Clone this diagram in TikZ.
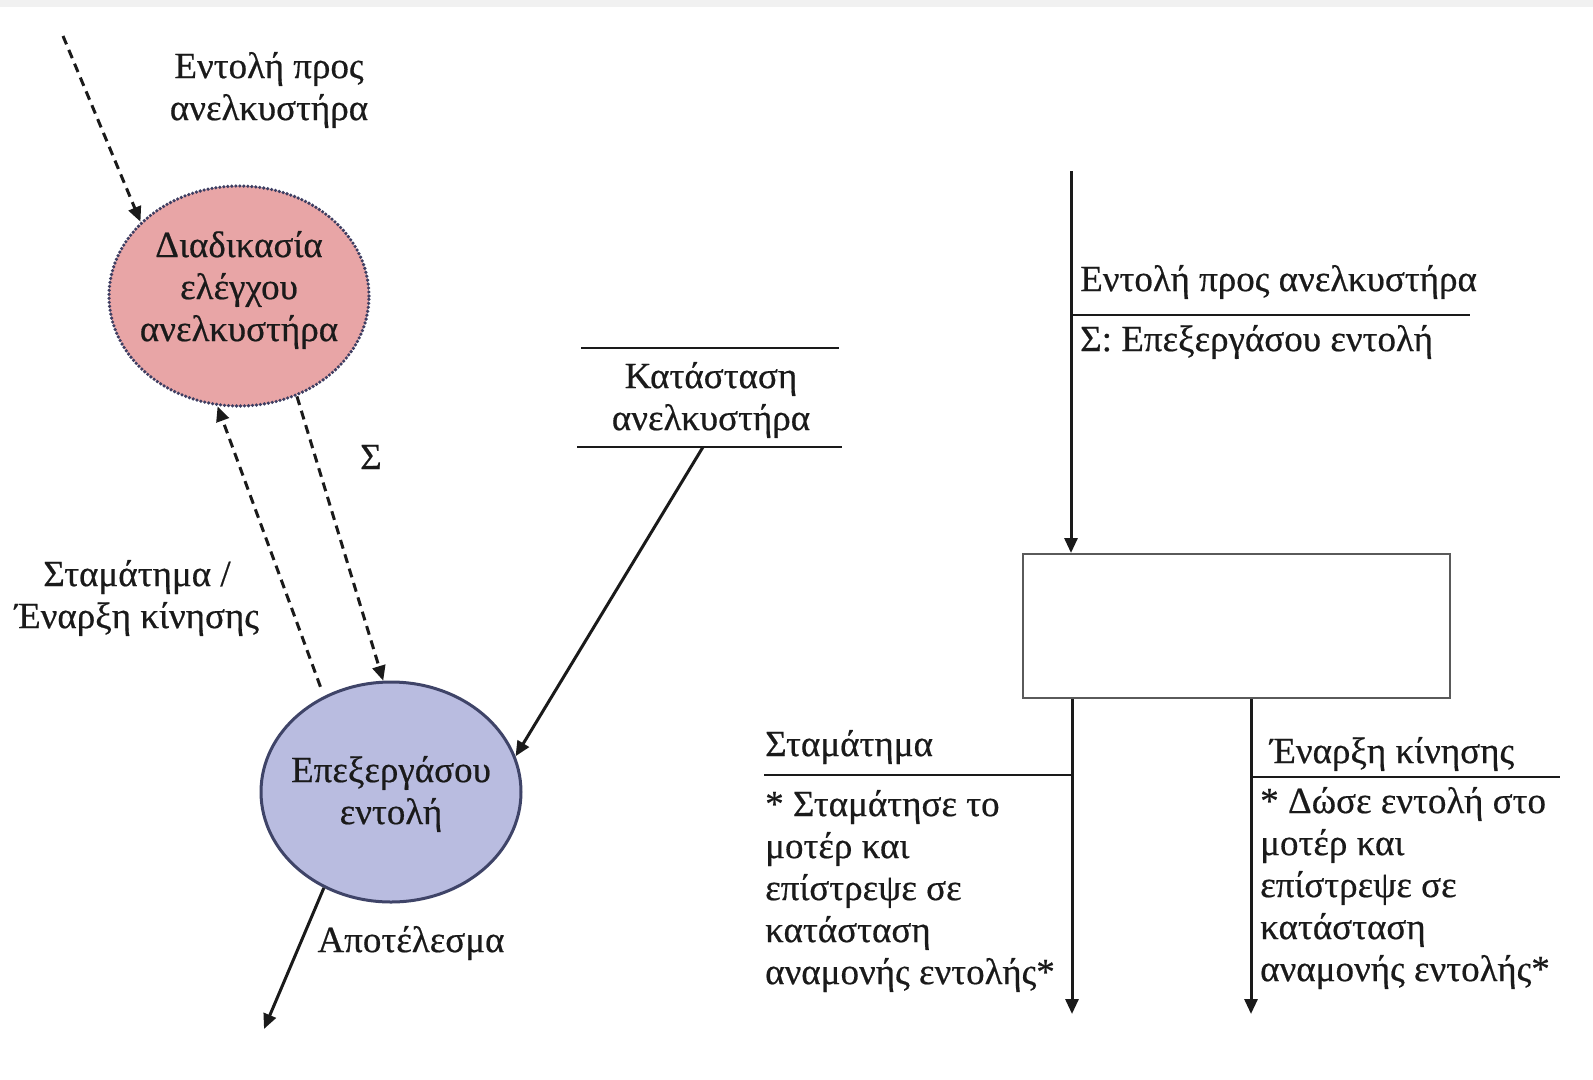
\documentclass[tikz,border=0pt]{standalone}
\usepackage{fontspec}
\setmainfont{Liberation Serif}[FakeBold=0.5]
\usetikzlibrary{arrows.meta,shapes.geometric}
\definecolor{ink}{HTML}{1A1A1A}
\definecolor{pinkfill}{HTML}{E8A5A6}
\definecolor{pinkedge}{HTML}{3E3E62}
\definecolor{bluefill}{HTML}{B9BCE0}
\definecolor{blueedge}{HTML}{3F4468}
\definecolor{boxedge}{HTML}{5A5A5A}
\definecolor{stripe}{HTML}{F1F1F1}

\begin{document}
\begin{tikzpicture}[x=1pt,y=-1pt,
  every node/.style={font=\fontsize{37}{42}\selectfont, text=ink, inner sep=0pt},
  flow/.style={draw=ink, line width=3pt, -{Triangle[length=15pt,width=13pt]}},
  ctrlflow/.style={flow, dash pattern=on 9pt off 6pt},
  rule/.style={draw=ink, line width=2.6pt},
  txt/.style={align=center},
  ltxt/.style={align=left, anchor=west},
  bubble/.style={ellipse, minimum width=260pt, minimum height=220pt, line width=3pt},
]
% canvas and the thin grey strip along the top edge
\fill[white] (0,0) rectangle (1593,1079);
\useasboundingbox (0,0) rectangle (1593,1079);
\fill[stripe] (0,0) rectangle (1593,7);

% ---------- left: data/control flow diagram ----------
\node[bubble, fill=pinkfill, draw=pinkedge, line cap=round, line width=3.6pt,
      dash pattern=on 0pt off 4pt] (ctrl) at (239,296) {};
\node[txt] (ctrlText) at (239,290) {Διαδικασία\\ελέγχου\\ανελκυστήρα};

\node[bubble, fill=bluefill, draw=blueedge] (proc) at (391,792) {};
\node[txt] (procText) at (391,794) {Επεξεργάσου\\εντολή};

% incoming command
\coordinate (cmdStart) at (63,36);
\draw[ctrlflow] (cmdStart) -- (ctrl.143);
\node[txt] (cmdText) at (269,90) {Εντολή προς\\ανελκυστήρα};

% control flows between the two processes
\draw[ctrlflow, shorten <=10pt] (proc.125) -- (ctrl.259);
\draw[ctrlflow] (ctrl.300) -- (proc.94);
\node (sigText) at (371,457) {Σ};
\node[txt] (stopStartText) at (137,598) {Σταμάτημα /\\Έναρξη κίνησης};

% data store
\coordinate (storeTL) at (581,348);
\coordinate (storeTR) at (839,348);
\coordinate (storeBL) at (577,447);
\coordinate (storeBR) at (842,447);
\draw[rule] (storeTL) -- (storeTR);
\draw[rule] (storeBL) -- (storeBR);
\node[txt] (storeText) at (711,400) {Κατάσταση\\ανελκυστήρα};
\coordinate (storeOut) at (703,447);
\draw[flow] (storeOut) -- (proc.16);

% result
\coordinate (outEnd) at (264,1029);
\draw[flow] (proc.235) -- (outEnd);
\node (resText) at (411,943) {Αποτέλεσμα};

% ---------- right: process specification ----------
\node[draw=boxedge, line width=2.4pt, minimum width=427pt, minimum height=144pt,
      anchor=north west] (handler) at (1022,553) {};
\coordinate (inTop) at (1071,171);
\draw[flow] (inTop) -- (inTop |- handler.north);
\coordinate (inRule) at (1071,315);
\draw[rule, line width=2.2pt] (inRule) -- ++(399,0);
\node[anchor=west] (inLabel) at (1080,282) {Εντολή προς ανελκυστήρα};
\node[anchor=west] (inCond) at (1080,342) {Σ: Επεξεργάσου εντολή};

\coordinate (stopEnd) at (1072,1014);
\coordinate (startEnd) at (1251,1014);
\draw[flow] (handler.south -| stopEnd) -- (stopEnd);
\draw[flow] (handler.south -| startEnd) -- (startEnd);

\coordinate (stopRule) at (764,775);
\draw[rule, line width=2.2pt] (stopRule) -- (stopRule -| stopEnd);
\node[anchor=west] (stopLabel) at (765,747) {Σταμάτημα};
\node[ltxt] (stopAction) at (765,891) {* Σταμάτησε το\\μοτέρ και\\επίστρεψε σε\\κατάσταση\\αναμονής εντολής*};

\coordinate (startRule) at (1560,777);
\draw[rule, line width=2.2pt] (startRule -| startEnd) -- (startRule);
\node[anchor=west] (startLabel) at (1270,754) {Έναρξη κίνησης};
\node[ltxt] (startAction) at (1260,888) {* Δώσε εντολή στο\\μοτέρ και\\επίστρεψε σε\\κατάσταση\\αναμονής εντολής*};
\end{tikzpicture}
\end{document}
